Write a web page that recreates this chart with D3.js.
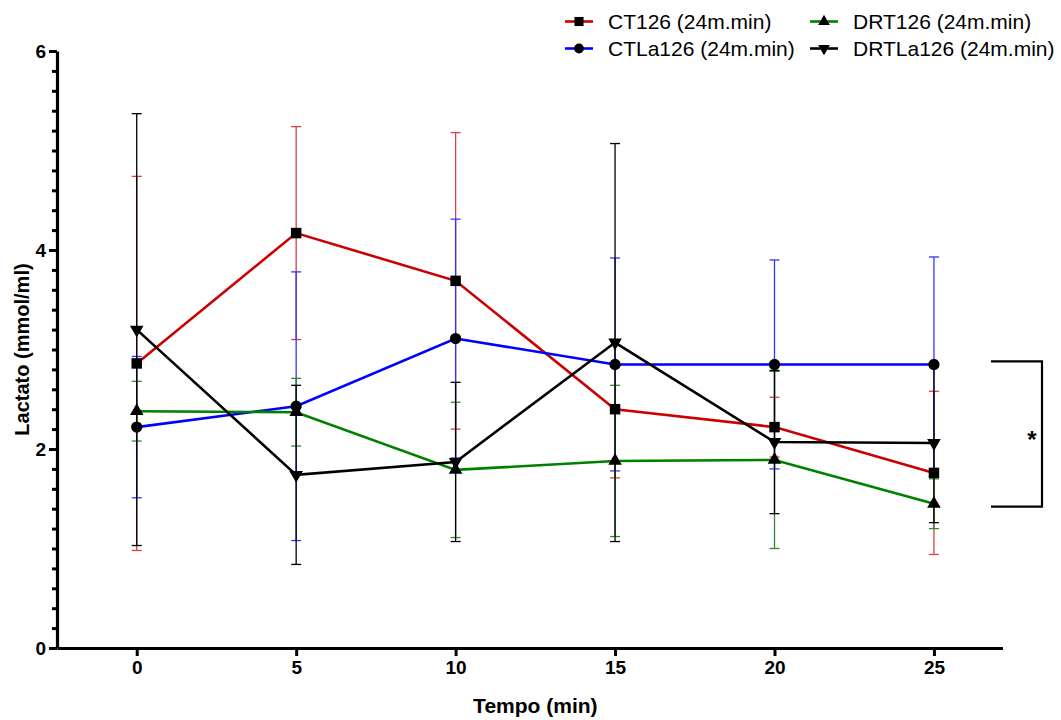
<!DOCTYPE html>
<html>
<head>
<meta charset="utf-8">
<script src="https://cdn.jsdelivr.net/npm/d3@7"></script>
<style>
  html, body { margin: 0; padding: 0; background: #fff; }
  svg { display: block; font-family: "Liberation Sans", Arial, sans-serif; }
</style>
</head>
<body>
<svg id="chart" width="1061" height="720"></svg>
<script>
// Sampling times (min)
const times = [0, 5, 10, 15, 20, 25];

// Series names
const seriesNames = ["CT126 (24m.min)", "CTLa126 (24m.min)", "DRT126 (24m.min)", "DRTLa126 (24m.min)"];

// Mean lactate (mmol/ml)
const ct126   = [2.86, 4.17, 3.69, 2.40, 2.22, 1.76];
const ctla126 = [2.22, 2.43, 3.11, 2.85, 2.85, 2.85];
const drt126  = [2.38, 2.37, 1.79, 1.88, 1.89, 1.45];
const drtla126 = [3.20, 1.74, 1.87, 3.07, 2.07, 2.06];

// Standard deviations
const ct126Sd   = [1.88, 1.07, 1.49, 0.69, 0.30, 0.82];
const ctla126Sd = [0.71, 1.35, 1.20, 1.07, 1.05, 1.08];
const drt126Sd  = [0.30, 0.34, 0.68, 0.76, 0.89, 0.25];
const drtla126Sd = [2.17, 0.90, 0.80, 2.00, 0.72, 0.80];

// Axis ticks
const xTicks = [0, 5, 10, 15, 20, 25];
const yTicks = [0, 2, 4, 6];

// Significance bracket at the last time point (between CTLa126 and DRT126)
const bracketValues = [2.88, 1.42];
const bracketLabel = "*";

const colors = ["#CC0000", "#0000FF", "#008000", "#000000"];
const barColors = ["#D94040", "#3333FF", "#2E8B2E", "#000000"];
const symbolTypes = [d3.symbolSquare, d3.symbolCircle, d3.symbolTriangle, d3.symbolTriangle];
const symbolRotate = [0, 0, 0, 180];
const symbolSizes = [110, 100, 80, 80];

const series = [
  { name: seriesNames[0], mean: ct126, sd: ct126Sd },
  { name: seriesNames[1], mean: ctla126, sd: ctla126Sd },
  { name: seriesNames[2], mean: drt126, sd: drt126Sd },
  { name: seriesNames[3], mean: drtla126, sd: drtla126Sd }
];

const svg = d3.select("#chart");
const fontFamily = '"Liberation Sans", Arial, sans-serif';

const x = d3.scaleLinear().domain([-2.5, 27.15]).range([57, 1002.5]);
const y = d3.scaleLinear().domain([0, 6]).range([648, 51]);

// ---- Axes ----
const yMinor = d3.range(0, 6.0001, 0.2).map(v => +v.toFixed(1));

svg.append("g")
  .attr("transform", "translate(57,0)")
  .call(d3.axisLeft(y).tickValues(yMinor).tickSize(5).tickFormat(""))
  .call(g => g.select(".domain").remove())
  .call(g => g.selectAll("line").attr("stroke", "#000").attr("stroke-width", 3));

svg.append("g")
  .attr("transform", "translate(57,0)")
  .call(d3.axisLeft(y).tickValues(yTicks).tickSize(8).tickSizeOuter(0).tickPadding(3).tickFormat(d3.format("d")))
  .attr("font-family", fontFamily).attr("font-size", 19)
  .call(g => g.select(".domain").attr("stroke", "#000").attr("stroke-width", 3.2))
  .call(g => g.selectAll("line").attr("stroke", "#000").attr("stroke-width", 3))
  .call(g => g.selectAll("text").attr("font-weight", "bold").attr("fill", "#000"));

svg.append("g")
  .attr("transform", "translate(0,648)")
  .call(d3.axisBottom(x).tickValues(xTicks).tickSize(8).tickSizeOuter(0).tickPadding(5).tickFormat(d3.format("d")))
  .attr("font-family", fontFamily).attr("font-size", 19)
  .call(g => g.select(".domain").attr("stroke", "#000").attr("stroke-width", 3.2))
  .call(g => g.selectAll("line").attr("stroke", "#000").attr("stroke-width", 3))
  .call(g => g.selectAll("text").attr("font-weight", "bold").attr("fill", "#000"));

// Axis titles
svg.append("text")
  .attr("x", x(12.5)).attr("y", 713)
  .attr("text-anchor", "middle")
  .attr("font-size", 21).attr("font-weight", "bold")
  .text("Tempo (min)");

svg.append("text")
  .attr("transform", `translate(29,${y(3)}) rotate(-90)`)
  .attr("text-anchor", "middle")
  .attr("font-size", 20).attr("font-weight", "bold")
  .text("Lactato (mmol/ml)");

// ---- Error bars ----
const capHalf = 5;
const eb = svg.append("g");
series.forEach((s, i) => {
  const g = eb.append("g").attr("stroke", barColors[i]).attr("stroke-width", 1.3).attr("fill", "none");
  times.forEach((t, j) => {
    const top = s.mean[j] + s.sd[j];
    const bot = s.mean[j] - s.sd[j];
    g.append("line").attr("x1", x(t)).attr("x2", x(t)).attr("y1", y(top)).attr("y2", y(bot));
    g.append("line").attr("x1", x(t) - capHalf).attr("x2", x(t) + capHalf).attr("y1", y(top)).attr("y2", y(top));
    g.append("line").attr("x1", x(t) - capHalf).attr("x2", x(t) + capHalf).attr("y1", y(bot)).attr("y2", y(bot));
  });
});

// ---- Lines ----
const line = d3.line().x((d, j) => x(times[j])).y(d => y(d));
series.forEach((s, i) => {
  svg.append("path")
    .datum(s.mean)
    .attr("fill", "none")
    .attr("stroke", colors[i])
    .attr("stroke-width", 2.6)
    .attr("d", line);
});

// ---- Markers ----
series.forEach((s, i) => {
  const sym = d3.symbol().type(symbolTypes[i]).size(symbolSizes[i]);
  svg.append("g").selectAll("path")
    .data(s.mean)
    .join("path")
    .attr("d", sym)
    .attr("fill", "#000")
    .attr("transform", (d, j) => `translate(${x(times[j])},${y(d)}) rotate(${symbolRotate[i]})`);
});

// ---- Significance bracket ----
const bx0 = 991, bx1 = 1042;
svg.append("path")
  .attr("fill", "none")
  .attr("stroke", "#000")
  .attr("stroke-width", 2.2)
  .attr("d", `M${bx0},${y(bracketValues[0])}H${bx1}V${y(bracketValues[1])}H${bx0}`);
svg.append("text")
  .attr("x", 1032).attr("y", y((bracketValues[0] + bracketValues[1]) / 2) + 14)
  .attr("text-anchor", "middle")
  .attr("font-size", 24).attr("font-weight", "bold")
  .text(bracketLabel);

// ---- Legend ----
const legendPos = [[565, 21.5], [565, 48.5], [810, 21.5], [810, 48.5]];
series.forEach((s, i) => {
  const [lx, ly] = legendPos[i];
  const g = svg.append("g").attr("transform", `translate(${lx},${ly})`);
  g.append("line").attr("x1", 0).attr("x2", 28).attr("y1", 0).attr("y2", 0)
    .attr("stroke", colors[i]).attr("stroke-width", 2.6);
  g.append("path")
    .attr("d", d3.symbol().type(symbolTypes[i]).size(symbolSizes[i] * 0.75)())
    .attr("fill", "#000")
    .attr("transform", `translate(14,0) rotate(${symbolRotate[i]})`);
  g.append("text")
    .attr("x", 43).attr("y", 7.5)
    .attr("font-size", 21)
    .attr("fill", "#000")
    .text(s.name);
});
</script>
</body>
</html>
